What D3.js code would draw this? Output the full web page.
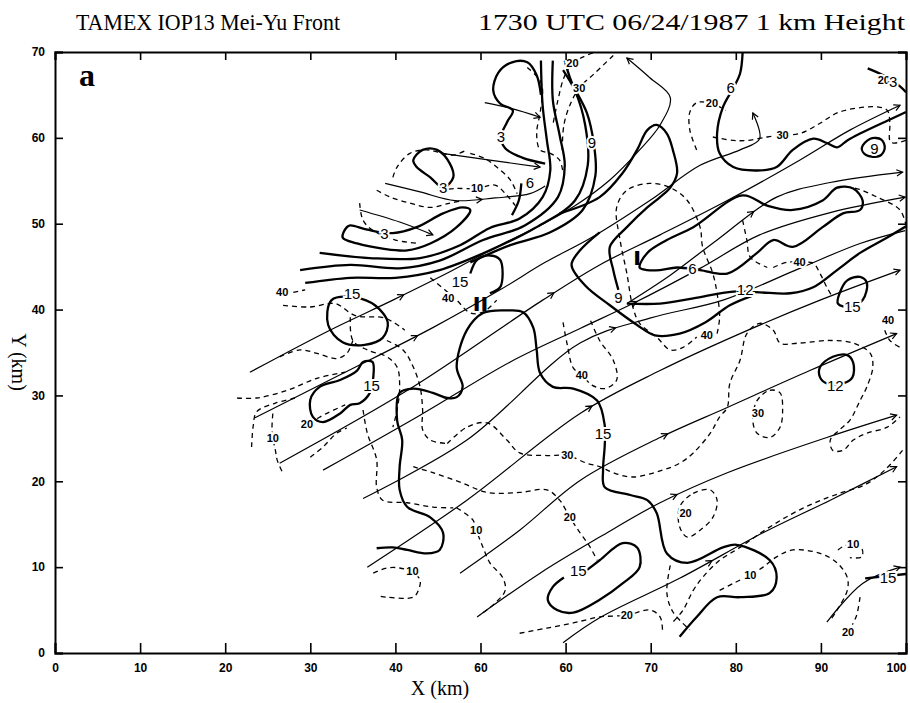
<!DOCTYPE html>
<html>
<head>
<meta charset="utf-8">
<title>TAMEX IOP13 Mei-Yu Front</title>
<script src="https://cdn.jsdelivr.net/npm/d3@7"></script>
<style>
  body { margin: 0; background: #fff; }
  text { fill: #000; }
</style>
</head>
<body>
<script>
// ---- axes ----
var xTicks = [0, 10, 20, 30, 40, 50, 60, 70, 80, 90, 100];
var xTickLabels = ["0", "10", "20", "30", "40", "60", "60", "70", "80", "90", "100"];
var yTicks = [0, 10, 20, 30, 40, 50, 60, 70];

// ---- streamlines (km) ----
var S1 = [[50.5,64.1],[53.7,63.4],[57.0,62.4]];
var S2 = [[45.5,58.2],[51.1,57.4],[57.0,56.6]];
var S3 = [[38.8,54.7],[42.9,53.7],[47.0,52.7],[51.7,53.0],[55.8,53.5],[57.6,54.4]];
var S4 = [[35.8,51.6],[40.5,50.2],[44.4,48.7]];
var SA = [[22.9,32.7],[32.3,37.6],[39.7,41.1],[46.4,44.4],[52.3,47.5],[57.0,49.8],[61.1,52.1],[65.2,55.1],[68.7,58.6],[71.1,61.5],[72.3,64.7],[69.9,67.0],[67.2,69.3]];
var SB = [[23.5,27.4],[33.5,32.4],[44.4,37.9],[52.3,42.3],[57.6,45.5],[62.9,48.3],[69.9,52.7],[75.8,56.8],[80.5,58.6],[82.8,59.9],[82.0,62.9]];
var SC = [[26.4,22.1],[42.1,31.0],[57.3,41.1],[64.0,45.2],[71.1,48.7],[79.0,52.7],[87.5,57.4],[93.4,60.9],[99.3,63.8]];
var SD = [[31.5,21.3],[42.9,27.7],[53.5,33.9],[61.7,37.8],[67.9,40.7],[75.8,44.8],[82.8,48.7],[91.1,51.3],[99.9,53.1]];
var SK = [[67.2,40.7],[72.3,44.0],[77.8,48.1],[84.8,53.1],[91.1,54.8],[99.6,56.0]];
var SE = [[36.2,18.0],[48.4,24.8],[61.7,36.1],[69.9,39.0],[78.5,41.1],[87.5,44.8],[94.6,47.7],[99.9,49.2]];
var SF = [[36.7,10.0],[48.4,17.8],[61.7,27.9],[71.1,32.9],[80.5,37.2],[89.9,41.1],[99.3,44.6]];
var SG = [[47.6,9.3],[54.6,14.3],[61.7,20.1],[71.1,25.1],[79.0,28.6],[88.7,32.9],[98.9,37.2]];
var SH = [[49.6,4.2],[57.0,9.3],[64.0,13.5],[71.1,17.5],[79.0,21.0],[90.7,25.1],[98.9,27.7]];
var SI = [[59.7,1.2],[64.0,4.1],[73.4,8.7],[83.2,14.0],[91.1,17.8],[98.9,21.7]];
var SJ = [[90.7,3.6],[94.9,8.1],[99.3,10.0]];
var streamlines = [S1, S2, S3, S4, SA, SB, SC, SD, SK, SE, SF, SG, SH, SI, SJ];
var streamArrows = [[1], [1], [0.6], [1], [0.3, 1], [0.3, 1], [0.45, 1], [0.55, 1], [0.5, 1], [0.5], [0.45, 1], [0.5, 1], [0.5, 1], [0.45, 1], [1]];

// ---- thick solid contours (km) ----
var T3top = [[57.6,57.0],[54.9,57.7],[52.9,58.8],[52.4,60.1],[53.1,61.8],[53.8,63.2],[52.3,64.0],[51.5,65.5],[52.1,67.6],[53.7,68.8],[55.5,68.8],[56.6,67.3],[57.1,65.0]];
var F1 = [[31.1,46.6],[37.0,46.0],[42.9,46.0],[47.6,47.5],[51.1,49.5],[54.6,50.6],[57.3,53.1],[58.2,56.2],[57.8,59.7],[57.3,63.8],[57.1,69.0]];
var F2 = [[28.8,44.6],[34.7,45.2],[40.5,44.8],[45.2,45.7],[50.3,48.1],[55.2,49.8],[59.1,53.1],[59.9,56.8],[59.3,60.3],[58.5,64.4],[58.5,69.0]];
var F3 = [[29.4,43.1],[34.7,43.7],[40.0,43.7],[45.2,44.6],[51.1,46.9],[56.4,49.5],[61.1,52.7],[62.6,56.8],[62.3,61.5],[61.1,65.5],[59.7,67.9]];
var F4 = [[48.8,45.5],[53.5,47.5],[58.2,49.0],[62.0,51.6],[63.5,55.6],[63.3,59.4],[62.5,62.9],[60.7,66.5],[59.9,69.0]];
var T6a = [[53.7,51.0],[54.5,52.7],[54.8,54.7]];
var T9big = [[59.3,51.2],[64.0,53.1],[66.7,55.9],[68.4,58.6],[69.6,60.9],[70.7,61.5],[71.9,60.5],[72.6,58.6],[73.1,55.9],[72.3,54.2],[71.1,53.1],[69.6,51.9],[67.2,49.6],[65.2,47.3],[65.6,44.6],[66.2,42.3]];
var Tdiamond = [[64.0,49.0],[61.7,46.9],[60.7,45.2],[62.3,42.8],[65.2,40.5],[68.4,38.2],[70.5,37.0],[73.4,37.2],[76.4,38.5],[79.3,40.5],[81.9,41.6]];
var T12 = [[67.2,40.7],[71.1,40.7],[75.0,41.3],[79.7,42.1],[82.8,42.0],[86.4,41.9],[89.1,42.6],[91.9,44.6],[94.6,46.6],[97.8,48.4],[100.0,49.7]];
var T6top = [[80.8,69.9],[80.5,67.5],[79.7,65.8],[78.5,63.6],[77.8,60.5],[78.1,58.2],[79.7,56.6],[82.5,56.2],[84.8,56.6],[86.7,58.6],[89.1,59.9],[90.7,59.4],[91.9,58.9],[93.1,59.7],[94.6,60.5],[97.8,62.0],[100.0,63.0]];
var T3tr = [[95.5,68.1],[97.5,67.2],[99.3,66.0],[100.0,65.3]];
var T15II = [[48.8,44.2],[49.6,45.8],[51.1,46.3],[52.3,45.8],[52.6,44.2],[52.3,42.6],[51.1,41.9]];
var T15big = [[37.8,12.2],[39.7,12.3],[41.4,12.0],[43.7,11.6],[45.2,12.0],[45.6,14.0],[44.1,15.8],[41.4,17.0],[40.5,19.0],[40.5,21.7],[40.8,24.8],[40.2,27.1],[40.5,30.3],[42.1,30.8],[44.4,30.3],[46.1,29.7],[47.2,29.8],[47.9,31.0],[47.2,33.3],[48.4,37.6],[50.3,39.6],[53.1,39.9],[55.0,39.7],[56.2,37.9],[56.6,35.3],[57.0,32.6],[58.5,31.0],[60.9,30.8],[63.7,29.4],[64.6,26.5],[64.6,24.2],[64.4,21.3],[64.6,19.3],[67.6,18.4],[69.6,17.8],[70.7,16.3],[71.9,11.6],[74.3,10.5],[78.5,12.3],[80.1,12.6],[84.0,10.8],[84.8,8.8],[84.0,7.0],[80.5,6.5],[77.8,6.5],[75.4,4.2],[73.4,1.9]];
var T15low = [[61.9,9.2],[64.0,10.8],[66.7,12.8],[68.4,12.3],[68.7,10.0],[66.7,8.1],[64.0,6.2],[60.9,4.7],[59.0,5.0],[57.9,6.2],[58.5,7.7],[59.8,8.8]];
var T15br = [[95.2,8.7],[100.0,9.2]];
var thickOpen = [T3top, F1, F2, F3, F4, T6a, T9big, Tdiamond, T12, T6top, T3tr, T15II, T15big, T15low, T15br];

var T3mid = [[42.1,57.4],[43.2,58.6],[44.9,58.6],[46.4,57.0],[46.8,55.4],[45.6,54.2],[44.1,55.4],[42.5,56.6]];
var T3low = [[34.3,49.6],[33.8,48.4],[35.5,47.7],[38.5,47.1],[41.4,46.9],[44.1,47.7],[47.2,49.6],[48.8,51.6],[47.9,51.9],[45.6,51.2],[42.5,49.6],[39.7,48.9],[36.7,49.3],[34.7,49.8]];
var T6I = [[68.7,44.9],[69.6,46.6],[71.9,48.1],[75.0,49.6],[80.8,53.3],[83.7,52.1],[86.7,51.6],[90.2,52.7],[91.9,54.2],[93.8,54.1],[94.9,52.7],[94.6,51.6],[92.6,51.2],[90.2,49.6],[86.7,47.3],[84.4,48.1],[82.5,46.6],[79.0,44.2],[75.8,44.6],[73.1,44.9],[71.1,44.6],[69.6,44.6]];
var T9s = [[94.8,58.8],[95.8,59.9],[97.1,59.8],[97.5,58.8],[96.9,57.9],[95.3,58.0]];
var T15r = [[92.2,41.9],[93.1,43.4],[94.6,43.8],[95.4,43.1],[94.9,41.1],[93.4,40.3],[92.0,40.7]];
var T12s = [[89.9,33.3],[91.4,34.5],[93.1,34.7],[93.8,33.8],[93.7,32.1],[92.6,31.4],[90.7,31.4],[89.9,32.1]];
var T15a = [[32.5,41.1],[35.3,41.4],[37.6,40.5],[39.1,38.5],[38.5,36.7],[36.4,35.9],[33.8,36.2],[32.1,38.2]];
var T15b = [[30.3,27.5],[30.0,29.5],[31.1,31.0],[33.5,31.8],[35.5,32.9],[36.2,33.9],[37.3,33.9],[37.4,32.1],[37.0,30.3],[35.8,29.1],[34.7,28.9],[33.5,27.9],[31.5,26.9]];
var thickClosed = [T3mid, T3low, T6I, T9s, T15r, T12s, T15a, T15b];

// ---- dashed contours (km) ----
var D40a = [[28.0,42.0],[29.4,42.3]];
var D40b = [[26.8,40.5],[30.0,40.3],[32.9,40.7],[35.3,39.3],[38.8,39.0],[41.1,37.6]];
var D40c = [[44.1,43.7],[45.8,42.3],[47.2,41.1],[48.8,39.6],[50.3,39.7],[51.9,41.1]];
var D10f = [[45.2,53.9],[47.0,54.1],[49.6,54.1],[51.7,54.5],[53.1,53.3],[54.1,52.1]];
var Df2 = [[48.8,58.2],[50.5,57.6],[51.9,56.6],[53.5,55.1],[54.3,53.5]];
var Df3 = [[39.7,55.4],[40.2,56.6],[41.7,58.2],[43.7,58.6],[45.2,58.3],[46.8,58.0],[48.4,58.6]];
var Df4 = [[37.8,53.9],[39.4,53.1],[41.7,52.4],[44.1,51.9],[46.4,52.4],[47.9,52.7]];
var Df5 = [[35.8,52.4],[36.2,50.4],[37.4,49.2],[40.0,48.1],[42.9,47.7]];
var Df6 = [[55.5,68.2],[57.0,66.7],[57.3,65.5],[57.0,62.9],[56.6,60.5],[57.0,58.6],[58.2,58.2],[59.3,57.4],[59.7,55.9]];
var D20t = [[63.2,69.9],[62.0,69.4],[60.8,68.7],[59.8,67.0],[59.1,64.4],[58.5,61.5]];
var D30t = [[65.6,69.6],[63.5,67.6],[61.6,65.8],[60.5,63.8],[59.8,61.5],[59.6,58.6]];
var D20m = [[75.4,58.6],[74.6,60.9],[74.6,63.0],[75.4,64.1],[77.2,64.0],[78.8,63.2]];
var D30ne = [[77.3,60.1],[79.7,59.7],[81.3,59.7],[83.7,60.1],[85.5,60.3],[87.5,60.5],[89.9,61.7],[91.9,62.9],[93.8,63.4],[96.6,63.6],[97.8,63.2],[98.1,61.7],[98.1,59.7],[98.5,59.4],[100.0,59.7]];
var Da = [[21.4,29.7],[23.7,29.7],[27.3,30.6],[30.8,32.0],[34.1,32.7]];
var Db = [[26.4,34.5],[28.8,35.3],[30.8,34.9],[33.1,34.3],[34.3,34.9],[35.0,36.4]];
var Dc = [[23.1,24.0],[23.3,26.5],[23.7,28.1],[25.9,29.1],[28.2,29.7]];
var D10l = [[25.6,27.9],[25.5,26.3],[25.6,25.0],[25.9,23.6],[26.1,22.5],[26.7,21.1]];
var D20l = [[28.8,26.7],[30.0,26.9],[31.7,27.8],[34.1,28.9]];
var Dd = [[30.0,22.8],[31.5,24.0],[33.1,25.6],[34.3,26.2]];
var De = [[34.7,39.1],[35.0,36.4],[36.7,35.3],[39.0,34.5],[40.2,33.3],[40.5,31.0],[40.2,28.3],[39.7,26.3]];
var Df = [[36.2,28.3],[36.7,25.6],[37.8,22.5],[37.8,19.3],[38.5,17.8],[41.4,17.5],[44.4,17.0],[46.8,16.9]];
var Dg = [[39.0,36.4],[40.9,35.3],[42.1,33.3],[42.9,31.0],[43.2,28.3],[43.2,26.0],[44.1,24.8],[46.1,24.4]];
var D30 = [[46.1,24.4],[48.4,26.3],[50.8,26.8],[53.1,24.8],[54.6,23.3],[57.8,23.0],[60.2,23.0],[62.5,22.1],[64.0,21.7],[65.6,21.0],[67.9,20.5],[71.4,21.3],[73.4,22.1],[75.0,23.3],[77.0,25.6],[78.1,27.5],[79.0,28.6],[79.3,31.4],[80.5,34.1],[81.3,37.2],[82.8,38.4],[84.4,37.6],[85.2,36.1],[87.5,36.1],[91.1,36.4],[93.8,36.1],[95.8,34.9],[96.1,33.3],[95.4,31.0],[94.6,29.4],[93.4,27.1],[92.2,26.0],[91.1,24.8],[91.4,23.6],[92.6,23.6],[93.8,24.8],[95.4,25.6],[97.8,26.3],[99.3,27.5]];
var D20b = [[42.1,21.7],[44.4,21.0],[47.6,19.9],[50.8,18.7],[54.6,18.7],[57.8,19.0],[59.3,17.8],[60.5,15.8],[61.7,14.0],[62.9,12.3],[63.7,10.8]];
var D10b = [[47.2,16.9],[49.1,15.5],[49.5,14.3],[50.3,12.3],[51.1,10.5],[52.6,8.8],[52.9,7.3],[51.7,5.8],[49.9,4.4]];
var D10c = [[37.4,9.3],[39.0,9.9],[40.5,9.9],[42.0,9.4],[42.9,8.5],[42.7,7.3],[42.1,6.5],[39.0,6.5],[38.2,6.6]];
var D20c = [[54.6,2.3],[57.8,2.9],[60.9,3.5],[64.0,4.2],[67.2,4.4],[69.9,5.0],[71.1,4.2],[71.4,2.3]];
var D40m = [[59.7,38.5],[60.2,35.9],[60.9,33.2],[61.9,32.4],[63.1,31.2],[64.6,30.8],[66.0,31.8],[65.6,34.1],[64.0,36.4],[62.9,38.8]];
var D40l = [[77.8,37.2],[78.1,39.1],[77.8,41.9],[77.3,44.2],[76.1,47.3],[75.8,49.6],[74.3,52.7],[72.3,54.2],[69.9,54.7],[67.2,53.9],[66.0,51.9],[66.4,48.1],[67.2,44.2],[67.9,40.3],[68.7,38.4],[70.7,36.8],[72.3,35.3],[73.8,35.6],[75.4,36.8]];
var D10r = [[78.1,7.3],[79.7,8.1],[81.7,9.1],[83.2,10.0],[84.8,11.2],[86.7,12.0],[89.9,11.6],[91.9,10.5],[93.1,8.8],[93.1,7.3],[91.9,5.0],[91.1,3.8]];
var DL1 = [[99.6,23.6],[97.5,21.3],[95.2,19.6],[92.2,18.6],[89.3,17.5],[86.4,16.1],[83.4,14.3],[80.5,12.3],[78.1,10.8],[76.1,8.8],[75.0,7.3],[73.8,5.0],[72.6,3.6]];
var DL2 = [[72.3,10.2],[71.9,7.0],[72.6,4.8],[74.6,2.7]];
var D10s = [[92.0,12.0],[92.8,12.5],[93.8,12.6],[94.8,12.2],[94.8,11.2],[93.4,11.1]];
var D20br = [[94.6,6.5],[94.2,4.4],[93.7,3.3]];
var D40r = [[97.5,37.6],[98.1,36.4],[99.3,35.6]];
var D40ne = [[84.4,44.9],[86.0,45.5],[87.5,45.5],[89.1,45.4],[89.9,44.2],[90.7,42.6],[91.4,41.4]];
var Dne2 = [[91.9,54.2],[93.8,54.2],[96.6,53.1],[99.3,51.6],[100.0,49.8]];
var Dne3 = [[80.8,50.4],[81.3,48.1],[81.7,46.1],[83.7,44.9]];
var dashOpen = [D40a, D40b, D40c, D10f, Df2, Df3, Df4, Df5, Df6, D20t, D30t, D20m, D30ne, Da, Db, Dc, D10l, D20l, Dd, De, Df, Dg, D30, D20b, D10b, D10c, D20c, D40m, D40l, D10r, DL1, DL2, D10s, D20br, D40r, D40ne, Dne2, Dne3];

var D20loop = [[73.4,17.0],[75.0,18.6],[77.0,19.0],[77.8,17.8],[77.3,15.8],[75.8,14.3],[74.3,13.5],[73.4,14.7]];
var D30loop = [[82.5,29.4],[84.0,30.6],[85.2,30.3],[85.5,28.3],[85.2,26.3],[84.0,25.1],[82.5,25.6],[82.0,27.1]];
var dashClosed = [D20loop, D30loop];

// ---- contour labels (km) ----
var thickLabels = [
  [52.4,60.1,"3"],[45.6,54.2,"3"],[38.7,48.8,"3"],[55.8,54.8,"6"],[63.1,59.4,"9"],
  [79.4,65.8,"6"],[96.3,58.7,"9"],[98.5,66.5,"3"],[74.9,44.8,"6"],[66.2,41.4,"9"],
  [81.1,42.3,"12"],[93.7,40.3,"15"],[34.9,41.9,"15"],[47.6,43.3,"15"],[37.2,31.1,"15"],
  [64.4,25.6,"15"],[91.7,31.2,"12"],[61.5,9.6,"15"],[97.9,8.8,"15"]
];
var dashLabels = [
  [60.8,68.7,"20"],[61.6,65.8,"30"],[77.2,64.0,"20"],[85.5,60.3,"30"],[97.4,66.7,"20"],
  [49.6,54.1,"10"],[26.7,42.0,"40"],[46.2,41.4,"40"],[61.9,32.4,"40"],[76.6,37.0,"40"],
  [87.5,45.5,"40"],[97.9,38.8,"40"],[25.6,25.0,"10"],[29.6,26.7,"20"],[60.2,23.0,"30"],
  [60.5,15.8,"20"],[49.5,14.3,"10"],[42.0,9.6,"10"],[82.6,27.9,"30"],[74.1,16.3,"20"],
  [81.7,9.1,"10"],[67.2,4.4,"20"],[93.8,12.7,"10"],[93.2,2.4,"20"]
];
var romanMarks = [[68.4,46.0,"I"],[50.0,40.7,"II"]];

// ---- drawing ----
var W = 910, H = 703;
var svg = d3.select("body").append("svg").attr("width", W).attr("height", H);
var x = d3.scaleLinear().domain([0, 100]).range([55, 906]);
var y = d3.scaleLinear().domain([0, 70]).range([653, 52]);

svg.append("text").attr("x", 76).attr("y", 30)
   .attr("font-family", "Liberation Serif").attr("font-size", 24)
   .attr("textLength", 264).attr("lengthAdjust", "spacingAndGlyphs")
   .text("TAMEX IOP13 Mei-Yu Front");
svg.append("text").attr("x", 478).attr("y", 30)
   .attr("font-family", "Liberation Serif").attr("font-size", 24)
   .attr("textLength", 427).attr("lengthAdjust", "spacingAndGlyphs")
   .text("1730 UTC 06/24/1987 1 km Height");

svg.append("clipPath").attr("id", "plotclip").append("rect")
   .attr("x", x(0)).attr("y", y(70)).attr("width", x(100) - x(0)).attr("height", y(0) - y(70));
var plot = svg.append("g").attr("clip-path", "url(#plotclip)");

var line = d3.line().x(function(d){ return x(d[0]); }).y(function(d){ return y(d[1]); })
             .curve(d3.curveCatmullRom.alpha(0.5));
var lineClosed = d3.line().x(function(d){ return x(d[0]); }).y(function(d){ return y(d[1]); })
             .curve(d3.curveCatmullRomClosed.alpha(0.5));

// dashed
plot.selectAll("path.dash").data(dashOpen).enter().append("path")
    .attr("d", line).attr("fill", "none").attr("stroke", "#000")
    .attr("stroke-width", 1.3).attr("stroke-dasharray", "5,4");
plot.selectAll("path.dashc").data(dashClosed).enter().append("path")
    .attr("d", lineClosed).attr("fill", "none").attr("stroke", "#000")
    .attr("stroke-width", 1.3).attr("stroke-dasharray", "5,4");

// streamlines
var sl = plot.selectAll("path.stream").data(streamlines).enter().append("path")
    .attr("class", "stream").attr("d", line).attr("fill", "none")
    .attr("stroke", "#000").attr("stroke-width", 1.2);

sl.each(function(d, i) {
  var p = this, L = p.getTotalLength();
  streamArrows[i].forEach(function(f) {
    var s = Math.min(f * L, L - 0.5);
    var a = p.getPointAtLength(Math.max(s - 2, 0)), b = p.getPointAtLength(s + 0.5);
    var ang = Math.atan2(b.y - a.y, b.x - a.x) * 180 / Math.PI;
    plot.append("path").attr("d", "M-6,-3.2L0,0L-6,3.2")
        .attr("transform", "translate(" + b.x + "," + b.y + ") rotate(" + ang + ")")
        .attr("fill", "none").attr("stroke", "#000").attr("stroke-width", 1.2);
  });
});

// thick contours
plot.selectAll("path.thick").data(thickOpen).enter().append("path")
    .attr("d", line).attr("fill", "none").attr("stroke", "#000")
    .attr("stroke-width", 2.3).attr("stroke-linejoin", "round");
plot.selectAll("path.thickc").data(thickClosed).enter().append("path")
    .attr("d", lineClosed).attr("fill", "none").attr("stroke", "#000")
    .attr("stroke-width", 2.3).attr("stroke-linejoin", "round");

// labels with white halo breaking the lines
function labels(data, size, weight) {
  plot.selectAll(null).data(data).enter().append("text")
      .attr("x", function(d){ return x(d[0]); }).attr("y", function(d){ return y(d[1]); })
      .attr("dy", "0.36em").attr("text-anchor", "middle")
      .attr("font-family", "Liberation Sans").attr("font-size", size).attr("font-weight", weight)
      .attr("stroke", "#fff").attr("stroke-width", 4).attr("paint-order", "stroke")
      .text(function(d){ return d[2]; });
}
labels(dashLabels, 11, "bold");
labels(thickLabels, 15, "normal");

plot.selectAll(null).data(romanMarks).enter().append("text")
    .attr("x", function(d){ return x(d[0]); }).attr("y", function(d){ return y(d[1]); })
    .attr("dy", "0.36em").attr("text-anchor", "middle")
    .attr("font-family", "Liberation Sans").attr("font-size", 20).attr("font-weight", "bold")
    .attr("transform", function(d){ return "translate(" + x(d[0]) + "," + y(d[1]) + ") scale(1.4,1) translate(" + (-x(d[0])) + "," + (-y(d[1])) + ")"; })
    .text(function(d){ return d[2]; });

// axes
var gx = svg.append("g").attr("transform", "translate(0," + y(0) + ")")
  .call(d3.axisBottom(x).tickValues(xTicks).tickSize(-10).tickPadding(10)
        .tickFormat(function(d, i){ return xTickLabels[i]; }));
var gy = svg.append("g").attr("transform", "translate(" + x(0) + ",0)")
  .call(d3.axisLeft(y).tickValues(yTicks).tickSize(-8).tickPadding(10));
var gt = svg.append("g").attr("transform", "translate(0," + y(70) + ")")
  .call(d3.axisTop(x).tickValues(xTicks).tickSize(-8).tickFormat(""));
var gr = svg.append("g").attr("transform", "translate(" + x(100) + ",0)")
  .call(d3.axisRight(y).tickValues(yTicks).tickSize(-8).tickFormat(""));

[gx, gy, gt, gr].forEach(function(g) {
  g.select(".domain").attr("stroke-width", 2);
  g.selectAll(".tick line").attr("stroke-width", 1.6);
  g.selectAll("text").attr("font-family", "Liberation Sans").attr("font-size", 12)
   .attr("font-weight", "bold").attr("fill", "#000");
});
gx.selectAll(".tick text").filter(function(d){ return d === 100; }).attr("dx", -10);

svg.append("text").attr("x", 440).attr("y", 695).attr("text-anchor", "middle")
   .attr("font-family", "Liberation Serif").attr("font-size", 20).text("X (km)");
svg.append("text").attr("transform", "translate(12,362) rotate(90)").attr("text-anchor", "middle")
   .attr("font-family", "Liberation Serif").attr("font-size", 20).text("Y (km)");

svg.append("text").attr("x", 79).attr("y", 86)
   .attr("font-family", "Liberation Serif").attr("font-size", 32).attr("font-weight", "bold").text("a");
</script>
</body>
</html>
